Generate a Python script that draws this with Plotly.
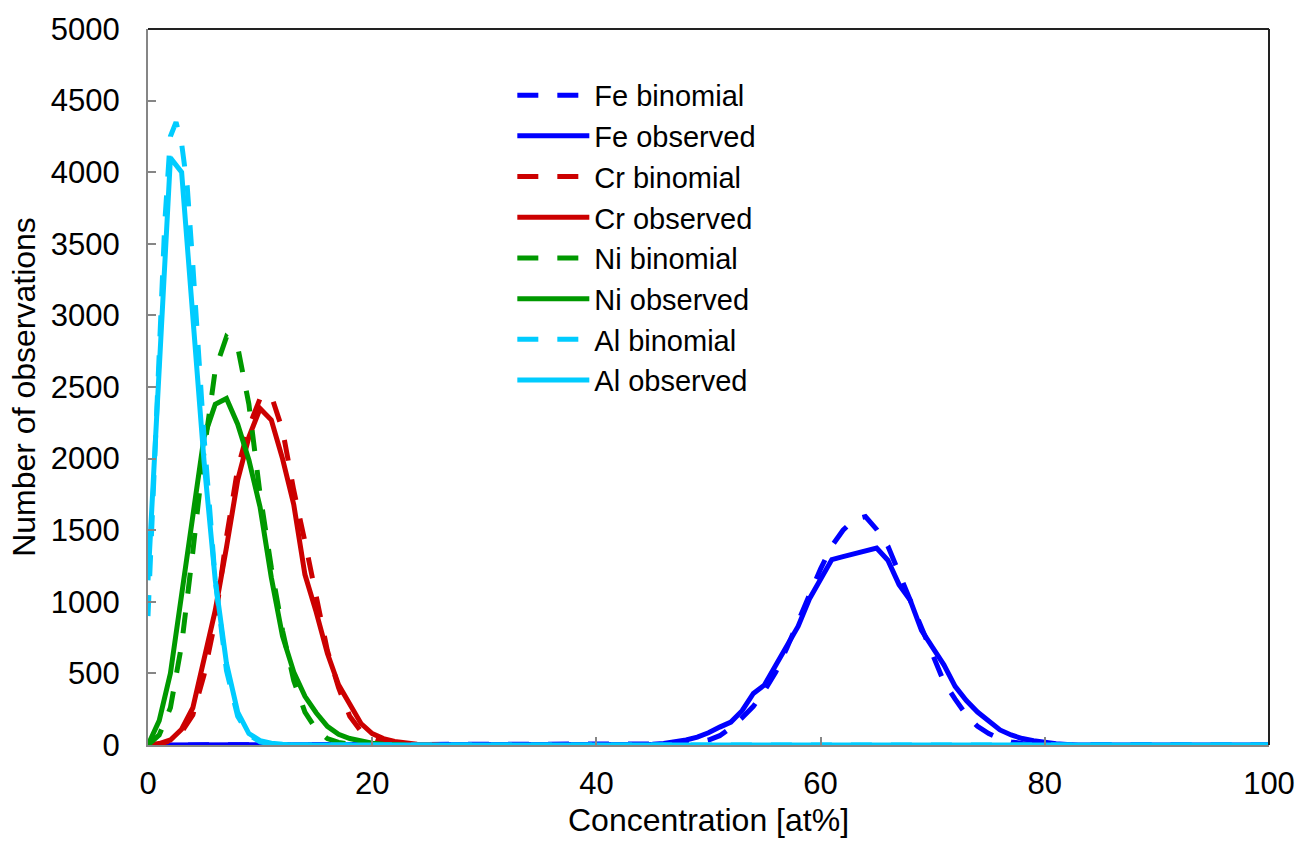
import plotly.graph_objects as go

# ---- data ----
fe_bin_x = [0, 47, 48, 49, 50, 51, 52, 53, 54, 55, 56, 57, 58, 59, 60, 61, 62, 63, 64, 65, 66, 67, 68, 69, 70, 71, 72, 73, 74, 75, 76, 77, 78, 79, 80, 100]
fe_bin_y = [0, 0, 8, 18, 35, 65, 120, 190, 270, 380, 510, 680, 870, 1040, 1230, 1390, 1500, 1575, 1595, 1505, 1390, 1200, 1010, 800, 620, 440, 320, 210, 130, 80, 45, 22, 10, 4, 2, 0]

fe_obs_x = [0, 44, 45, 46, 47, 48, 49, 50, 51, 52, 53, 54, 55, 56, 57, 58, 59, 60, 61, 62, 63, 64, 65, 66, 67, 68, 69, 70, 71, 72, 73, 74, 75, 76, 77, 78, 79, 80, 81, 82, 83, 100]
fe_obs_y = [0, 0, 5, 10, 20, 35, 55, 85, 125, 160, 240, 360, 420, 560, 700, 830, 1020, 1150, 1295, 1315, 1335, 1350, 1375, 1290, 1120, 1010, 800, 680, 560, 410, 310, 230, 170, 105, 70, 45, 30, 15, 8, 4, 0, 0]

cr_bin_x = [0, 1, 2, 3, 4, 5, 6, 7, 8, 9, 10, 11, 12, 13, 14, 15, 16, 17, 18, 19, 20, 21, 22, 23, 24]
cr_bin_y = [0, 5, 30, 90, 210, 490, 870, 1450, 1930, 2220, 2420, 2440, 2200, 1780, 1420, 1030, 660, 400, 200, 95, 45, 20, 8, 3, 0]

cr_obs_x = [0, 1, 2, 3, 4, 5, 6, 7, 8, 9, 10, 11, 12, 13, 14, 15, 16, 17, 18, 19, 20, 21, 22, 23, 24, 25, 26]
cr_obs_y = [0, 10, 35, 110, 260, 590, 940, 1380, 1850, 2150, 2350, 2270, 2000, 1680, 1190, 930, 640, 420, 280, 150, 80, 45, 25, 12, 6, 3, 0]

ni_bin_x = [0, 1, 2, 3, 4, 5, 6, 7, 8, 9, 10, 11, 12, 13, 14, 15, 16, 17, 18, 19, 20]
ni_bin_y = [0, 70, 260, 700, 1350, 2050, 2620, 2850, 2780, 2380, 1750, 1240, 800, 450, 230, 110, 45, 18, 6, 2, 0]

ni_obs_x = [0, 1, 2, 3, 4, 5, 6, 7, 8, 9, 10, 11, 12, 13, 14, 15, 16, 17, 18, 19, 20, 21, 22, 23]
ni_obs_y = [0, 170, 500, 1050, 1590, 2150, 2380, 2420, 2240, 1990, 1660, 1170, 760, 510, 340, 225, 130, 75, 45, 25, 12, 6, 3, 0]

al_bin_x = [0, 0.5, 1, 1.5, 2, 2.5, 3, 3.5, 4, 5, 6, 7, 8, 9, 10, 11, 12, 100]
al_bin_y = [900, 1850, 2800, 3650, 4250, 4350, 4200, 3900, 3350, 2150, 1150, 520, 200, 70, 22, 6, 0, 0]

al_obs_x = [0, 1, 2, 3, 4, 5, 6, 7, 8, 9, 10, 11, 12, 13, 100]
al_obs_y = [1150, 2600, 4100, 4000, 2990, 1980, 1150, 570, 230, 80, 30, 12, 5, 0, 0]

names = ["Fe binomial", "Fe observed", "Cr binomial", "Cr observed",
         "Ni binomial", "Ni observed", "Al binomial", "Al observed"]
colors = ["#0000FF", "#0000FF", "#CC0000", "#CC0000",
          "#009900", "#009900", "#00CCFF", "#00CCFF"]
xs = [fe_bin_x, fe_obs_x, cr_bin_x, cr_obs_x, ni_bin_x, ni_obs_x, al_bin_x, al_obs_x]
ys = [fe_bin_y, fe_obs_y, cr_bin_y, cr_obs_y, ni_bin_y, ni_obs_y, al_bin_y, al_obs_y]

fig = go.Figure()
for i, (n, c, x, y) in enumerate(zip(names, colors, xs, ys)):
    dashed = (i % 2 == 0)
    fig.add_trace(go.Scatter(
        x=x, y=y, name=n, mode="lines",
        line=dict(color=c, width=5, dash="21px,19px" if dashed else "solid"),
    ))

FONT = "Liberation Sans, Arial, sans-serif"
fig.update_layout(
    width=1314, height=844,
    margin=dict(l=148, r=45, t=24, b=99),
    paper_bgcolor="white", plot_bgcolor="white",
    font=dict(family=FONT, size=29, color="black"),
    showlegend=True,
    legend=dict(x=0.325, y=0.943, xanchor="left", yanchor="top",
                bgcolor="rgba(0,0,0,0)", font=dict(size=29),
                itemwidth=72, tracegroupgap=0),
    xaxis=dict(range=[0, 100], dtick=20, tick0=0, showgrid=False, zeroline=False,
               showline=True, linecolor="#868686", linewidth=2,
               ticks="inside", ticklen=8, tickcolor="#868686", tickwidth=2,
               tickfont=dict(size=31),
               ticklabelstandoff=10,
               title=dict(text="Concentration [at%]", standoff=8, font=dict(size=32))),
    yaxis=dict(range=[0, 5000], dtick=500, tick0=0, showgrid=False, zeroline=False,
               showline=True, linecolor="#868686", linewidth=2,
               ticks="inside", ticklen=8, tickcolor="#868686", tickwidth=2,
               tickfont=dict(size=31),
               ticklabelstandoff=20,
               title=dict(text="Number of observations", standoff=6, font=dict(size=32))),
)
fig.add_shape(type="line", xref="paper", yref="paper", x0=0, x1=1, y0=1, y1=1,
              line=dict(color="#222222", width=2))
fig.add_shape(type="line", xref="paper", yref="paper", x0=1, x1=1, y0=0, y1=1,
              line=dict(color="#222222", width=2))

fig.write_html("out.html")
